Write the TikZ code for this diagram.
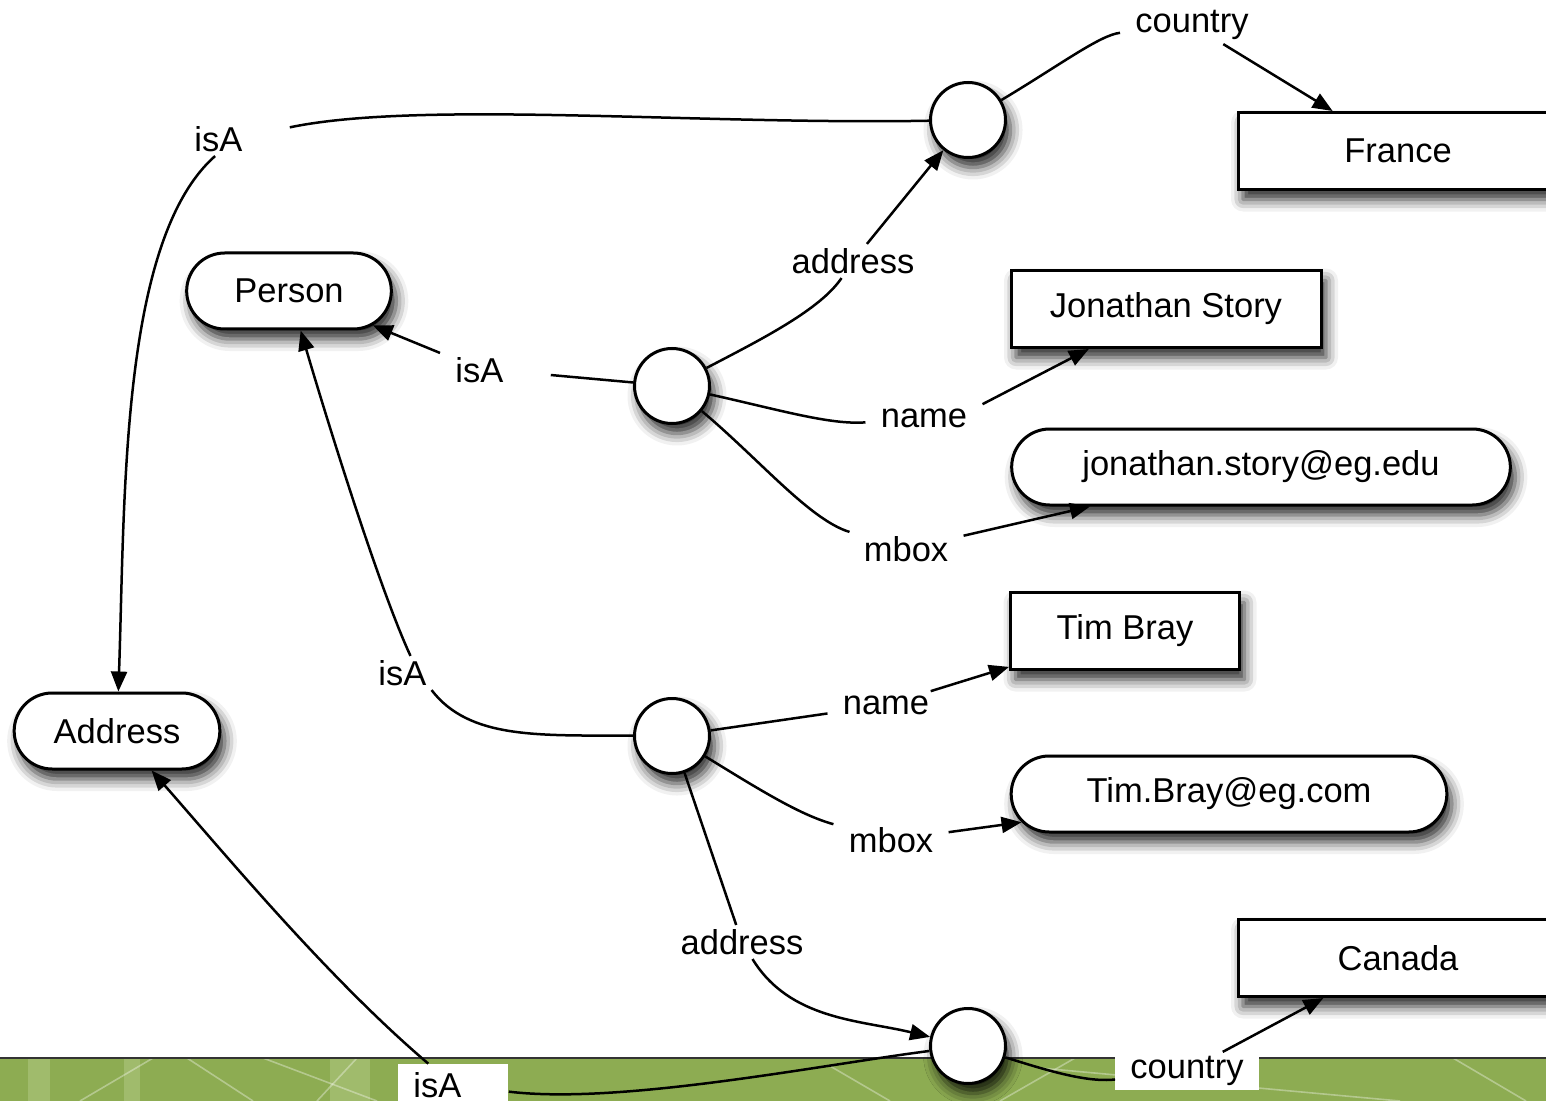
\documentclass[tikz,border=0pt]{standalone}
\usepackage{fontspec}
\setmainfont{Liberation Sans}
\usetikzlibrary{arrows.meta,shapes.misc,shadows.blur}

\definecolor{bandgreen}{RGB}{141,172,82}
\definecolor{bandlight}{RGB}{160,187,108}

\tikzset{
  nodeshadow/.style={blur shadow={shadow xshift=2.5pt,shadow yshift=-5pt,shadow blur radius=6pt,shadow opacity=85}},
  blank/.style={circle,draw,line width=1.5pt,fill=white,minimum size=37.5pt,inner sep=0pt,nodeshadow},
  lit/.style={rectangle,draw,line width=1.5pt,fill=white,minimum height=38.5pt,font=\fontsize{17.25}{20}\selectfont,nodeshadow},
  cls/.style={rounded rectangle,draw,line width=1.5pt,fill=white,minimum height=38pt,font=\fontsize{17.25}{20}\selectfont,nodeshadow},
  lbl/.style={fill=white,inner xsep=7.5pt,inner ysep=2pt,font=\fontsize{17.25}{20}\selectfont},
  isa/.style={lbl,text width=40pt,align=left,anchor=west},
  rel/.style={line width=1.25pt},
  arr/.style={rel,-{Triangle[length=10pt,width=8pt]}}
}

\begin{document}
\begin{tikzpicture}[x=0.5pt,y=-0.5pt]
\useasboundingbox (0,0) rectangle (1546,1101);

% slide band
\fill[bandgreen] (0,1058) rectangle (1546,1101);
\foreach \a/\b in {28/50,124/140,330/370}{
	\fill[bandlight] (\a,1058) rectangle (\b,1101);
}
\foreach \a/\b/\c/\d in {80/1101/153/1058,187/1058/253/1101,263/1058/377/1101,357/1058/317/1101,
	830/1066/890/1101,1000/1101/1075/1058,1040/1068/1400/1101,1453/1058/1526/1101}{
	\draw[white,opacity=0.35,line width=0.8pt] (\a,\b)--(\c,\d);
}
\draw[line width=1.2pt,black!80] (0,1058)--(1546,1058);

% blank nodes
\node[blank] (b1) at (968,120) {};
\node[blank] (b2) at (672,386) {};
\node[blank] (b3) at (672,736) {};
\node[blank] (b4) at (968,1046) {};

% classes and literals
\node[cls,minimum width=109pt] (person) at (289,291) {Person};
\node[cls,minimum width=109.5pt] (address) at (117,731) {Address};
\node[lit,minimum width=160pt] (france) at (1398,151) {France};
\node[lit,minimum width=155pt] (jon) at (1166,309) {Jonathan Story};
\node[cls,minimum width=256pt] (jmail) at (1261,467) {jonathan.story@eg.edu};
\node[lit,minimum width=114.5pt] (tim) at (1125,631) {Tim Bray};
\node[cls,minimum width=224.5pt] (tmail) at (1229,794) {Tim.Bray@eg.com};
\node[lit,minimum width=160pt] (canada) at (1398,958) {Canada};

% labels
\node[isa] (isa1) at (179,139) {isA};
\node[lbl] (ctry1) at (1192,25) {country};
\node[lbl] (adr1) at (853,261) {address};
\node[isa] (isa2) at (440,370) {isA};
\node[lbl] (name1) at (924,418) {name};
\node[lbl] (mbox1) at (906,549) {mbox};
\node[isa] (isa3) at (363,673) {isA};
\node[lbl] (name2) at (886,705) {name};
\node[lbl] (mbox2) at (891,840) {mbox};
\node[lbl] (adr2) at (742,942) {address};
\node[isa,minimum height=21pt] (isa4) at (398,1085) {isA};
\node[lbl] (ctry2) at (1187,1071) {country};

% edges
\draw[rel] (b1) .. controls (700,125) and (420,100) .. (isa1);
\draw[arr] (isa1) .. controls (120,240) and (125,500) .. (address);
\draw[rel] (b1) .. controls (1060,65) and (1100,35) .. (ctry1);
\draw[arr] (ctry1) -- (france);
\draw[rel] (b2) .. controls (760,340) and (820,310) .. (adr1);
\draw[arr] (adr1) -- (b1);
\draw[rel] (b2) -- (isa2);
\draw[arr] (isa2.north west) -- (person);
\draw[rel] (b2) .. controls (780,410) and (830,425) .. (name1);
\draw[arr] (name1.north east) -- (jon);
\draw[rel] (b2) .. controls (760,460) and (810,520) .. (mbox1);
\draw[arr] (mbox1) -- (jmail);

\draw[rel] (b3) .. controls (540,735) and (470,740) .. (isa3);
\draw[arr] (isa3) .. controls (380,590) and (330,430) .. (person);
\draw[rel] (b3) -- (name2);
\draw[arr] (name2) -- (tim);
\draw[rel] (b3) .. controls (760,790) and (800,815) .. (mbox2);
\draw[arr] (mbox2) -- (tmail);
\draw[rel] (b3) -- (adr2);
\draw[arr] (adr2) .. controls (790,1020) and (860,1020) .. (b4);

\draw[rel] (b4) .. controls (820,1065) and (620,1105) .. (isa4);
\draw[arr] (isa4) .. controls (330,980) and (230,860) .. (address);
\draw[rel] (b4) .. controls (1040,1068) and (1085,1083) .. (ctry2);
\draw[arr] (ctry2) -- (canada);

\end{tikzpicture}
\end{document}
